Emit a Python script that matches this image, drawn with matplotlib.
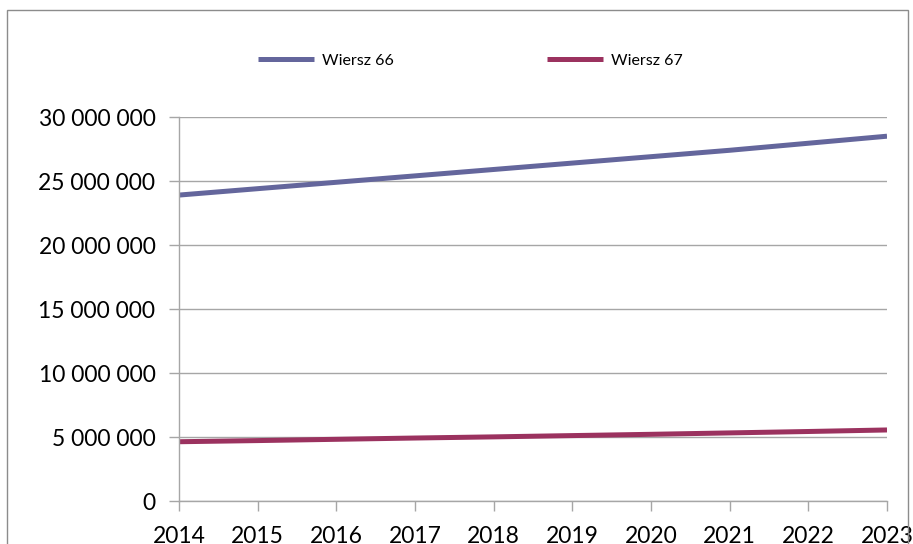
import matplotlib
matplotlib.use("Agg")
import matplotlib.pyplot as plt
from matplotlib.patches import Rectangle
from matplotlib.ticker import FuncFormatter

years = [2014, 2015, 2016, 2017, 2018, 2019, 2020, 2021, 2022, 2023]
wiersz_66 = [23.9e6, 24.4e6, 24.9e6, 25.4e6, 25.9e6, 26.4e6, 26.9e6, 27.4e6, 27.95e6, 28.5e6]
wiersz_67 = [4.63e6, 4.72e6, 4.82e6, 4.92e6, 5.01e6, 5.11e6, 5.21e6, 5.32e6, 5.43e6, 5.55e6]
series_names = ["Wiersz 66", "Wiersz 67"]
series_colors = ["#64669C", "#9B325F"]

plt.rcParams['font.family'] = ['Lato', 'DejaVu Sans']

W, H = 913, 544
fig = plt.figure(figsize=(W / 100, H / 100), dpi=100)
fig.patch.set_facecolor("white")

# outer chart border
fig.add_artist(Rectangle((7 / W, -0.05), (908 - 7) / W, 1.05 - 10 / H,
                         transform=fig.transFigure, fill=False,
                         edgecolor="#8C8C8C", linewidth=1.0))

ax = fig.add_axes([179 / W, 1 - 501 / H, (887 - 179) / W, (501 - 117) / H])
for name, vals, col in zip(series_names, [wiersz_66, wiersz_67], series_colors):
    ax.plot(years, vals, color=col, linewidth=3.6, label=name, solid_capstyle="butt")

ax.set_xlim(years[0], years[-1])
ax.set_ylim(0, 30e6)
ax.set_yticks(range(0, 30000001, 5000000))
ax.set_xticks(years)
ax.yaxis.set_major_formatter(FuncFormatter(lambda v, p: f"{int(v):,}".replace(",", " ")))
ax.grid(axis="y", color="#A6A6A6", linewidth=1.0)
ax.set_axisbelow(True)
for s in ["top", "right"]:
    ax.spines[s].set_visible(False)
for s in ["left", "bottom"]:
    ax.spines[s].set_color("#A6A6A6")
    ax.spines[s].set_linewidth(1.0)
ax.tick_params(axis="both", colors="#A6A6A6", labelcolor="black", labelsize=16.5,
               length=7, width=1.0, direction="out")
ax.tick_params(axis="y", pad=10)
ax.tick_params(axis="x", pad=11)

fig.legend(loc="center", bbox_to_anchor=(470 / W, 1 - 61 / H), ncol=2, frameon=False,
           fontsize=11.5, handlelength=3.5, handletextpad=0.5, columnspacing=9.6)

fig.savefig("out.png", dpi=100)
